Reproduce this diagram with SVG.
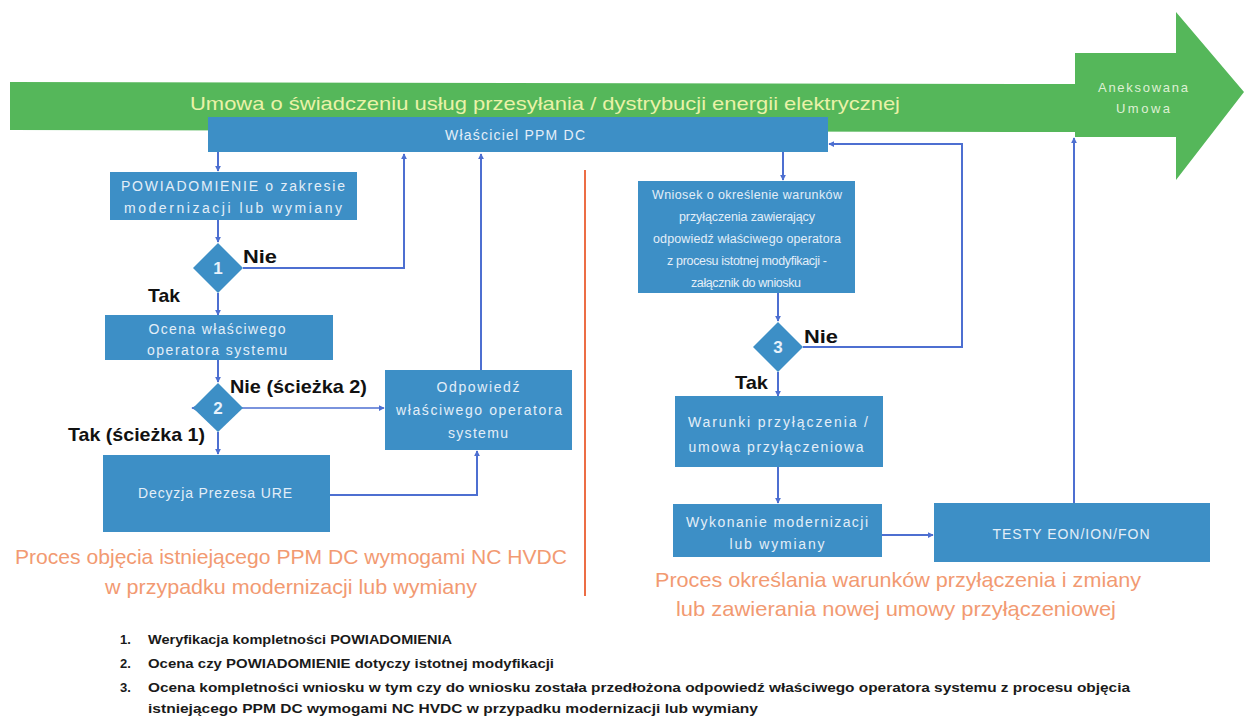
<svg xmlns="http://www.w3.org/2000/svg" width="1244" height="721" viewBox="0 0 1244 721">
<defs>
<style>
.box{fill:#3d8fc6}
.bt{font-family:"Liberation Sans",Arial,sans-serif;font-size:14px;fill:#e3eef8;text-anchor:middle}
.bs{font-family:"Liberation Sans",Arial,sans-serif;font-size:12.5px;fill:#e3eef8;text-anchor:middle}
.lbl{font-family:"Liberation Sans",Arial,sans-serif;font-size:19px;font-weight:bold;fill:#111}
.dn{font-family:"Liberation Sans",Arial,sans-serif;font-size:17px;font-weight:bold;fill:#e8f2fb;text-anchor:middle}
.cap{font-family:"Liberation Sans",Arial,sans-serif;font-size:21px;fill:#f29a72;text-anchor:middle}
.note{font-family:"Liberation Sans",Arial,sans-serif;font-size:13px;font-weight:bold;fill:#1a1a1a}
.c{fill:none;stroke:#4d6fd1;stroke-width:2}
</style>
<marker id="ah" viewBox="0 0 8 8" refX="7" refY="4" markerWidth="6" markerHeight="6" orient="auto-start-reverse" markerUnits="userSpaceOnUse">
<path d="M0,0 L8,4 L0,8 z" fill="#4d6fd1"/>
</marker>
</defs>
<rect width="1244" height="721" fill="#ffffff"/>

<g id="contract-arrow">
<polygon points="10,82 1075,84 1075,53 1176,53 1176,12 1244,92 1176,180 1176,137 1075,137 1075,132 10,130" fill="#55b75a"/>
<text x="545" y="110" font-family="Liberation Sans,Arial,sans-serif" font-size="19" fill="#eaf2a8" text-anchor="middle" textLength="710" lengthAdjust="spacingAndGlyphs">Umowa o świadczeniu usług przesyłania / dystrybucji energii elektrycznej</text>
<text x="1143" y="92" font-family="Liberation Sans,Arial,sans-serif" font-size="13" fill="#dff0d4" text-anchor="middle" textLength="90">Aneksowana</text>
<text x="1143" y="113" font-family="Liberation Sans,Arial,sans-serif" font-size="13" fill="#dff0d4" text-anchor="middle" textLength="54">Umowa</text>
</g>

<g id="connectors">
<line class="c" x1="218" y1="152" x2="218" y2="171" marker-end="url(#ah)"/>
<line class="c" x1="218" y1="220" x2="218" y2="242" marker-end="url(#ah)"/>
<polyline class="c" points="243,268 404,268 404,154" marker-end="url(#ah)"/>
<line class="c" x1="218" y1="293" x2="218" y2="315" marker-end="url(#ah)"/>
<line class="c" x1="218" y1="360" x2="218" y2="382" marker-end="url(#ah)"/>
<line class="c" x1="192" y1="408" x2="384" y2="408" marker-start="url(#ah)" marker-end="url(#ah)" stroke-opacity="0.75"/>
<line class="c" x1="218" y1="432" x2="218" y2="454" marker-end="url(#ah)"/>
<polyline class="c" points="330,495 477,495 477,451" marker-end="url(#ah)"/>
<line class="c" x1="481" y1="370" x2="481" y2="154" marker-end="url(#ah)"/>
<line class="c" x1="783" y1="152" x2="783" y2="180" marker-end="url(#ah)"/>
<line class="c" x1="778" y1="293" x2="778" y2="321" marker-end="url(#ah)"/>
<polyline class="c" points="803,347 962,347 962,144 829,144" marker-end="url(#ah)"/>
<line class="c" x1="778" y1="372" x2="778" y2="396" marker-end="url(#ah)"/>
<line class="c" x1="778" y1="467" x2="778" y2="503" marker-end="url(#ah)"/>
<line class="c" x1="882" y1="535" x2="933" y2="535" marker-end="url(#ah)"/>
<line class="c" x1="1074" y1="503" x2="1074" y2="138" marker-end="url(#ah)"/>
</g>

<line x1="585" y1="170" x2="585" y2="596" stroke="#ec6d45" stroke-width="2"/>

<g id="owner">
<rect class="box" x="208" y="117" width="620" height="35"/>
<text class="bt" x="515" y="140" textLength="140">Właściciel PPM DC</text>
</g>

<g id="notification">
<rect class="box" x="110" y="172" width="247" height="48"/>
<text class="bt" x="233" y="191" textLength="224">POWIADOMIENIE o zakresie</text>
<text class="bt" x="233" y="213" textLength="218">modernizacji lub wymiany</text>
</g>

<g id="decision1">
<polygon class="box" points="218,243 243,268 218,293 193,268"/>
<text class="dn" x="218" y="274">1</text>
</g>
<text class="lbl" x="243" y="263" textLength="34" lengthAdjust="spacingAndGlyphs">Nie</text>
<text class="lbl" x="148" y="302" textLength="32" lengthAdjust="spacingAndGlyphs">Tak</text>

<g id="assessment">
<rect class="box" x="105" y="315" width="228" height="45"/>
<text class="bt" x="217" y="334" textLength="137">Ocena właściwego</text>
<text class="bt" x="217" y="355" textLength="140">operatora systemu</text>
</g>

<g id="decision2">
<polygon class="box" points="218,383 243,408 218,432 193,408"/>
<text class="dn" x="218" y="414">2</text>
</g>
<text class="lbl" x="230" y="393" textLength="137" lengthAdjust="spacingAndGlyphs">Nie (ścieżka 2)</text>
<text class="lbl" x="68" y="441" textLength="137" lengthAdjust="spacingAndGlyphs">Tak (ścieżka 1)</text>

<g id="response">
<rect class="box" x="385" y="370" width="187" height="80"/>
<text class="bt" x="478" y="392" textLength="83">Odpowiedź</text>
<text class="bt" x="479" y="415" textLength="166">właściwego operatora</text>
<text class="bt" x="478" y="438" textLength="60">systemu</text>
</g>

<g id="ure-decision">
<rect class="box" x="103" y="455" width="227" height="77"/>
<text class="bt" x="215" y="498" textLength="154">Decyzja Prezesa URE</text>
</g>

<text class="cap" x="291" y="564" textLength="552" lengthAdjust="spacingAndGlyphs">Proces objęcia istniejącego PPM DC wymogami NC HVDC</text>
<text class="cap" x="291" y="594" textLength="372" lengthAdjust="spacingAndGlyphs">w przypadku modernizacji lub wymiany</text>

<g id="application">
<rect class="box" x="638" y="181" width="217" height="112"/>
<text class="bs" x="747" y="199" textLength="190">Wniosek o określenie warunków</text>
<text class="bs" x="747" y="221" textLength="136">przyłączenia zawierający</text>
<text class="bs" x="747" y="243" textLength="188">odpowiedź właściwego operatora</text>
<text class="bs" x="747" y="265" textLength="160">z procesu istotnej modyfikacji -</text>
<text class="bs" x="746" y="287" textLength="110">załącznik do wniosku</text>
</g>

<g id="decision3">
<polygon class="box" points="778,322 803,347 778,372 753,347"/>
<text class="dn" x="778" y="353">3</text>
</g>
<text class="lbl" x="804" y="343" textLength="34" lengthAdjust="spacingAndGlyphs">Nie</text>
<text class="lbl" x="735" y="389" textLength="33" lengthAdjust="spacingAndGlyphs">Tak</text>

<g id="conditions">
<rect class="box" x="675" y="396" width="208" height="71"/>
<text class="bt" x="778" y="427" textLength="180">Warunki  przyłączenia /</text>
<text class="bt" x="776" y="452" textLength="175">umowa przyłączeniowa</text>
</g>

<g id="execution">
<rect class="box" x="673" y="504" width="209" height="53"/>
<text class="bt" x="777" y="527" textLength="182">Wykonanie  modernizacji</text>
<text class="bt" x="777" y="549" textLength="95">lub wymiany</text>
</g>

<g id="tests">
<rect class="box" x="934" y="503" width="276" height="59"/>
<text class="bt" x="1071" y="539" textLength="157">TESTY EON/ION/FON</text>
</g>

<text class="cap" x="898" y="587" textLength="486" lengthAdjust="spacingAndGlyphs">Proces określania warunków przyłączenia i zmiany</text>
<text class="cap" x="896" y="616" textLength="440" lengthAdjust="spacingAndGlyphs">lub zawierania nowej umowy przyłączeniowej</text>

<g id="notes">
<text class="note" x="120" y="644">1.</text>
<text class="note" x="148" y="644" textLength="304" lengthAdjust="spacingAndGlyphs">Weryfikacja kompletności POWIADOMIENIA</text>
<text class="note" x="120" y="668">2.</text>
<text class="note" x="148" y="668" textLength="406" lengthAdjust="spacingAndGlyphs">Ocena czy POWIADOMIENIE dotyczy istotnej modyfikacji</text>
<text class="note" x="120" y="692">3.</text>
<text class="note" x="148" y="692" textLength="982" lengthAdjust="spacingAndGlyphs">Ocena kompletności wniosku w tym czy do wniosku została przedłożona odpowiedź właściwego operatora systemu z procesu objęcia</text>
<text class="note" x="148" y="713" textLength="610" lengthAdjust="spacingAndGlyphs">istniejącego PPM DC  wymogami NC HVDC w przypadku modernizacji lub wymiany</text>
</g>
</svg>
